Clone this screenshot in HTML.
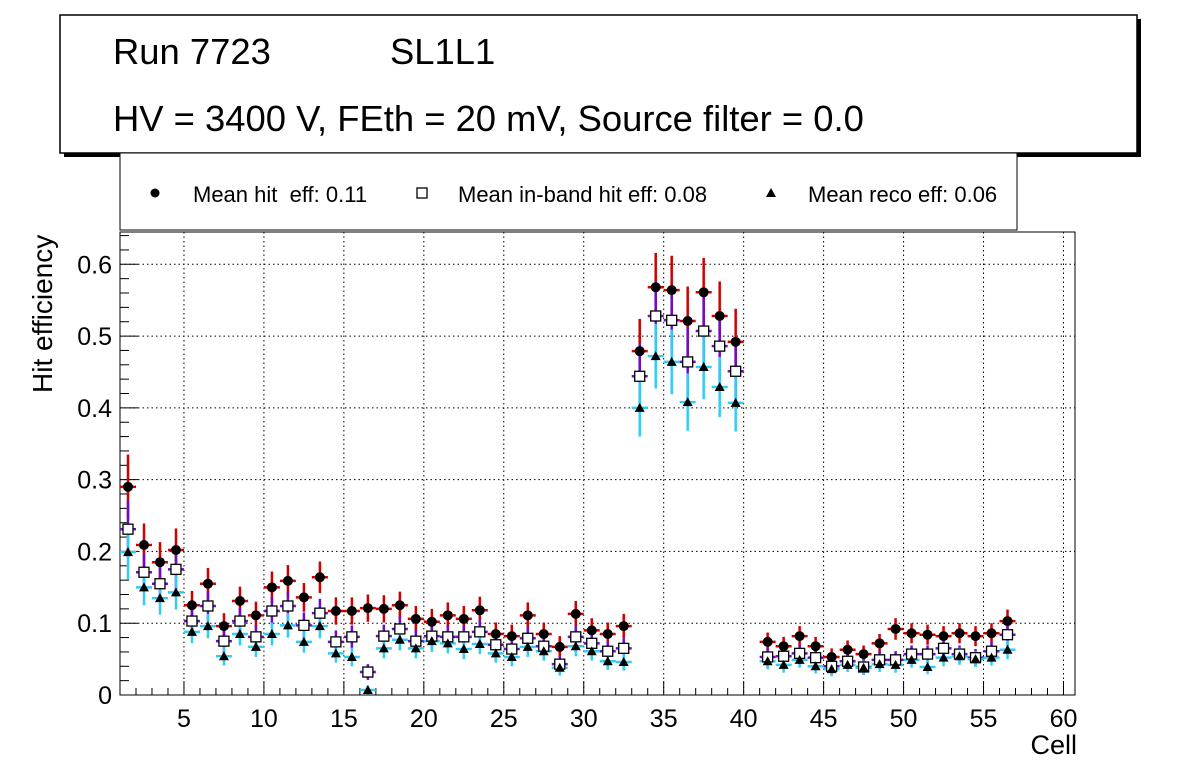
<!DOCTYPE html>
<html><head><meta charset="utf-8"><style>
body{margin:0;background:#fff;}
svg text{font-family:"Liberation Sans",sans-serif;}
</style></head><body>
<svg id="c" width="1196" height="772" xmlns="http://www.w3.org/2000/svg">
<rect x="64" y="19" width="1077" height="138" fill="#000"/>
<rect x="60" y="15" width="1077" height="138" fill="#fff" stroke="#000" stroke-width="1.5"/>
<text x="113" y="64" font-size="36.4">Run 7723</text>
<text x="390" y="64" font-size="36.4">SL1L1</text>
<text x="113" y="131" font-size="36.4">HV = 3400 V, FEth = 20 mV, Source filter = 0.0</text>
<rect x="120" y="153" width="897" height="77" fill="#fff" stroke="#000" stroke-width="1"/>
<g><circle cx="155" cy="193" r="4.5" fill="#000"/><text x="193" y="202" font-size="22" xml:space="preserve">Mean hit  eff: 0.11</text></g>
<g><rect x="417" y="188" width="10" height="10" fill="#fff" stroke="#000" stroke-width="1.3"/><text x="458" y="202" font-size="22">Mean in-band hit eff: 0.08</text></g>
<g><polygon points="771,188 776,197 766,197" fill="#000"/><text x="808" y="202" font-size="22">Mean reco eff: 0.06</text></g>
<g id="plot"></g>
<text x="1077" y="754" font-size="27" text-anchor="end">Cell</text>
<text transform="translate(52,393) rotate(-90)" font-size="28">Hit efficiency</text>
</svg>
<script>
const hit=[0.29,0.209,0.185,0.202,0.125,0.155,0.096,0.131,0.111,0.15,0.159,0.136,0.164,0.117,0.117,0.121,0.12,0.125,0.106,0.102,0.111,0.106,0.118,0.085,0.082,0.111,0.085,0.067,0.113,0.09,0.085,0.096,0.479,0.568,0.564,0.521,0.561,0.528,0.492,null,0.074,0.068,0.082,0.068,0.053,0.063,0.057,0.072,0.092,0.086,0.084,0.082,0.086,0.082,0.086,0.103];
const inband=[0.231,0.171,0.155,0.175,0.103,0.124,0.075,0.103,0.081,0.117,0.124,0.097,0.114,0.074,0.081,0.032,0.082,0.092,0.075,0.082,0.081,0.081,0.088,0.07,0.064,0.079,0.068,0.043,0.081,0.072,0.061,0.065,0.444,0.528,0.522,0.464,0.507,0.486,0.451,null,0.053,0.054,0.058,0.052,0.04,0.047,0.039,0.049,0.049,0.057,0.057,0.065,0.057,0.052,0.061,0.084];
const reco=[0.199,0.15,0.135,0.143,0.088,0.096,0.054,0.085,0.067,0.085,0.097,0.074,0.096,0.058,0.053,0.007,0.065,0.077,0.065,0.075,0.072,0.064,0.071,0.058,0.053,0.067,0.061,0.038,0.068,0.061,0.047,0.046,0.4,0.472,0.464,0.408,0.457,0.429,0.407,null,0.047,0.042,0.049,0.04,0.036,0.042,0.038,0.043,0.042,0.049,0.039,0.052,0.054,0.05,0.052,0.063];
const hitErr=[0.045,0.03,0.028,0.03,0.02,0.022,0.018,0.02,0.019,0.022,0.022,0.02,0.022,0.019,0.019,0.019,0.019,0.019,0.018,0.018,0.018,0.018,0.019,0.016,0.016,0.018,0.016,0.015,0.018,0.017,0.016,0.017,0.045,0.048,0.048,0.048,0.048,0.048,0.046,null,0.013,0.013,0.014,0.013,0.012,0.013,0.012,0.013,0.015,0.014,0.014,0.014,0.014,0.014,0.014,0.016];
const inErr=[0.04,0.027,0.025,0.027,0.018,0.02,0.016,0.018,0.016,0.02,0.02,0.018,0.02,0.016,0.016,0.011,0.016,0.017,0.016,0.016,0.016,0.016,0.017,0.015,0.014,0.016,0.015,0.012,0.016,0.015,0.014,0.014,0.045,0.048,0.048,0.048,0.048,0.048,0.046,null,0.012,0.012,0.012,0.012,0.011,0.011,0.011,0.012,0.012,0.012,0.012,0.013,0.012,0.012,0.013,0.015];
const recoErr=[0.038,0.025,0.023,0.024,0.016,0.017,0.013,0.016,0.014,0.016,0.017,0.015,0.017,0.013,0.013,0.006,0.014,0.015,0.014,0.015,0.014,0.014,0.014,0.013,0.013,0.014,0.013,0.011,0.014,0.013,0.012,0.012,0.04,0.045,0.045,0.04,0.045,0.042,0.04,null,0.011,0.011,0.011,0.01,0.01,0.01,0.01,0.011,0.011,0.011,0.01,0.012,0.012,0.011,0.011,0.013];
const xTicks=[5,10,15,20,25,30,35,40,45,50,55,60];
const yTicks=[0,0.1,0.2,0.3,0.4,0.5,0.6];

const L=120,R=1075,T=232,B=695,X0=1,X1=60.72,Y0=0,Y1=0.645;
const sx=v=>L+(v-X0)/(X1-X0)*(R-L);
const sy=v=>B-(v-Y0)/(Y1-Y0)*(B-T);
const NS='http://www.w3.org/2000/svg';
const g=document.getElementById('plot');
function mk(t,a,p){const e=document.createElementNS(NS,t);for(const k in a)e.setAttribute(k,a[k]);(p||g).appendChild(e);return e;}

const frame=mk('rect',{x:L,y:T,width:R-L,height:B-T,fill:'#fff',stroke:'none'});


xTicks.forEach(t=>{const x=sx(t);
 const gl=mk('line',{x1:x,x2:x,y1:T,y2:B,stroke:'#000','stroke-width':1,'stroke-dasharray':'1.5,3'});
 
 
 const tl=mk('text',{x:x,y:B+32,'font-size':25,'text-anchor':'middle'});tl.textContent=t;
 
 
});
yTicks.forEach(t=>{const y=sy(t);
 if(t>0){const gl=mk('line',{x1:L,x2:R,y1:y,y2:y,stroke:'#000','stroke-width':1,'stroke-dasharray':'1.5,3'});
 
 }
 const tl=mk('text',{x:L-8,y:y+9,'font-size':25,'text-anchor':'end'});tl.textContent=t;
 
 
});
for(let c=1;c<=60;c++){const x=sx(c);const len=(c%5===0)?14:7;mk('line',{x1:x,x2:x,y1:B,y2:B-len,stroke:'#000','stroke-width':1});}
for(let i=0;i<=32;i++){const v=i*0.02;const y=sy(v);if(y<T)break;const len=(i%5===0)?18:9;mk('line',{x1:L,x2:L+len,y1:y,y2:y,stroke:'#000','stroke-width':1});}
const border=mk('rect',{x:L,y:T,width:R-L,height:B-T,fill:'none',stroke:'#000','stroke-width':1});



const series=[[hit,hitErr,'#d00000','circle','hit-point'],[inband,inErr,'#6a0dd0','square','inband-point'],[reco,recoErr,'#33ccf5','tri','reco-point']];
const hw=(sx(2)-sx(1))/2;
series.forEach(([vals,errs,col,shape,name])=>{
 vals.forEach((v,i)=>{if(v==null)return;
  const x=sx(i+1.5),y=sy(v),e=errs[i];
  const grp=mk('g',{});
  
  
  mk('line',{x1:x,x2:x,y1:sy(v+e),y2:sy(Math.max(0,v-e)),stroke:col,'stroke-width':2.5},grp);
  mk('line',{x1:x-hw,x2:x+hw,y1:y,y2:y,stroke:col,'stroke-width':2.5},grp);
 });
});
series.forEach(([vals,errs,col,shape,name])=>{
 vals.forEach((v,i)=>{if(v==null)return;
  const x=sx(i+1.5),y=sy(v);
  let m;
  if(shape==='circle')m=mk('circle',{cx:x,cy:y,r:5,fill:'#000'});
  else if(shape==='square')m=mk('rect',{x:x-5,y:y-5,width:10,height:10,fill:'#fff',stroke:'#000','stroke-width':1.3});
  else m=mk('polygon',{points:`${x},${y-5} ${x+5},${y+4} ${x-5},${y+4}`,fill:'#000'});
  
  
 });
});
</script>
</body></html>
